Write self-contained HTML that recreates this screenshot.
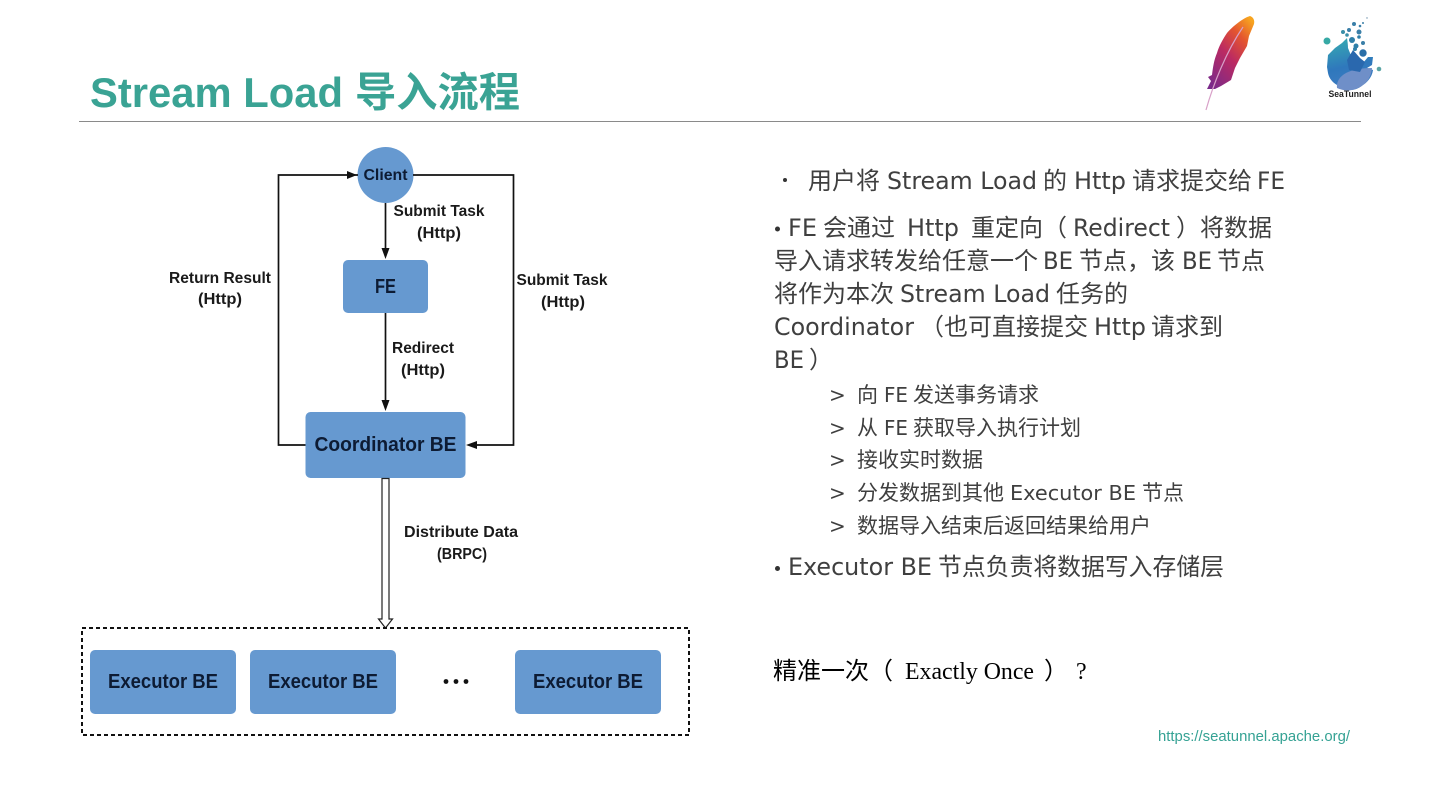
<!DOCTYPE html>
<html><head><meta charset="utf-8"><style>
html,body{margin:0;padding:0;background:#fff;width:1440px;height:810px;overflow:hidden}
svg{display:block}
.d text{font-family:"DejaVu Sans","Noto Sans CJK SC",sans-serif;fill:#3f3f3f;font-size:24px}
.s text{font-size:20px}
.l{font-family:"Liberation Sans",sans-serif;font-weight:bold;font-size:16px;fill:#1a1a1a;text-anchor:middle}
.n{font-family:"Liberation Sans",sans-serif;font-weight:bold;fill:#0d1b33;text-anchor:middle}
</style></head><body>
<svg width="1440" height="810" viewBox="0 0 1440 810" xmlns="http://www.w3.org/2000/svg">
<defs>
<linearGradient id="f" x1="0.85" y1="0" x2="0.15" y2="1"><stop offset="0" stop-color="#f7a41f"/><stop offset=".25" stop-color="#e4552f"/><stop offset=".55" stop-color="#bb2a62"/><stop offset="1" stop-color="#7a2a8a"/></linearGradient>
<linearGradient id="w" x1=".3" y1="0" x2=".5" y2="1"><stop offset="0" stop-color="#36a9b2"/><stop offset=".55" stop-color="#2f78bc"/><stop offset="1" stop-color="#3f7cc2"/></linearGradient>
</defs>
<text x="90" y="107" font-family="'Liberation Sans',sans-serif" font-weight="bold" font-size="42" fill="#3aa394" textLength="253" lengthAdjust="spacingAndGlyphs">Stream Load</text>
<text x="355" y="106.500" font-family="'Noto Sans CJK SC',sans-serif" font-weight="bold" font-size="41" fill="#3aa394" textLength="165" lengthAdjust="spacingAndGlyphs">导入流程</text>
<rect x="79" y="121" width="1282" height="1" fill="#8a8a8a"/>

<!-- feather -->
<path d="M1250 16C1253 17 1255 20 1254 24L1249 36L1247 46L1240 58L1235 68L1231 80L1221 86L1215 89L1207 89L1211 81L1208 77L1212 75C1213 67 1214 60 1217 53C1219 46 1223 39 1227 33C1232 27 1243 18 1250 16Z" fill="url(#f)"/>
<path d="M1206 110C1213 85 1226 52 1243 27" stroke="#d8a0c8" stroke-width="1.200" fill="none"/>
<!-- seatunnel -->
<path d="M1327 67L1328 55L1335 48L1342 43L1347 38C1348 44 1348 48 1348 48L1352 58L1363 63L1368 57L1373 57L1372 65L1367 68L1373 70C1372 78 1366 83 1363 85C1358 89 1354 90 1350 90C1344 90 1340 87 1337 85C1332 82 1329 78 1328 73Z" fill="url(#w)"/>
<path d="M1337 88C1336 78 1345 68 1372 68C1371 78 1366 83 1363 85C1356 91 1345 92 1337 88Z" fill="#6f8fc8"/>
<path d="M1347 60L1353 50L1360 58L1365 62L1360 72L1349 70Z" fill="#2a68ae"/>
<circle cx="1327" cy="41" r="3.500" fill="#36a9a5"/><circle cx="1343" cy="32" r="2" fill="#3a8fa8"/>
<circle cx="1349" cy="30" r="2" fill="#3a7fa8"/><circle cx="1359" cy="32" r="2.500" fill="#3a7fa8"/><circle cx="1354" cy="24" r="2" fill="#3a7fa8"/><circle cx="1352" cy="40" r="3" fill="#2f7fa8"/><circle cx="1363" cy="43" r="2" fill="#3a7fa8"/><circle cx="1363" cy="53" r="3.700" fill="#2a6fa8"/><circle cx="1356" cy="46" r="2.500" fill="#2f7fa8"/><circle cx="1355" cy="49" r="2" fill="#2f7fa8"/><circle cx="1347" cy="35" r="1.800" fill="#3a8fa8"/><circle cx="1360" cy="26" r="1.300" fill="#3a7fa8"/><circle cx="1363" cy="23" r="1" fill="#3a7fa8"/><circle cx="1367" cy="18" r=".7" fill="#6a8fa8"/><circle cx="1359" cy="37" r="1.800" fill="#2f7fa8"/><circle cx="1379" cy="69" r="2.300" fill="#5aa5a5"/>
<text x="1350" y="97" font-family="'Liberation Sans',sans-serif" font-weight="bold" font-size="9" text-anchor="middle" fill="#222" textLength="43" lengthAdjust="spacingAndGlyphs">SeaTunnel</text>

<!-- diagram -->
<g fill="#6699d0">
<circle cx="385.500" cy="175" r="28"/>
<rect x="343" y="260" width="85" height="53" rx="5"/>
<rect x="305.500" y="412" width="160" height="66" rx="5"/>
<rect x="90" y="650" width="146" height="64" rx="5"/>
<rect x="250" y="650" width="146" height="64" rx="5"/>
<rect x="515" y="650" width="146" height="64" rx="5"/>
</g>
<g stroke="#111" stroke-width="1.700" fill="none">
<path d="M358 175H278.500V445H305.500"/>
<path d="M413 175H513.500V445H470"/>
<path d="M385.500 203V250"/>
<path d="M385.500 313V402"/>
</g>
<g fill="#111">
<path d="M357 175L347 171V179Z"/>
<path d="M385.500 259L381.500 248H389.500Z"/>
<path d="M385.500 411L381.500 400H389.500Z"/>
<path d="M466 445L477 441V449Z"/>
</g>
<path d="M382 478.500H389V619H392.500L385.500 628L378.500 619H382Z" fill="#fff" stroke="#222" stroke-width="1.200"/>
<rect x="82" y="628" width="607" height="107" fill="none" stroke="#111" stroke-width="2" stroke-dasharray="4 3"/>
<circle cx="446" cy="681.500" r="2.400" fill="#111"/><circle cx="456" cy="681.500" r="2.400" fill="#111"/><circle cx="466" cy="681.500" r="2.400" fill="#111"/>

<text class="n" x="385.500" y="180" font-size="16" textLength="44" lengthAdjust="spacingAndGlyphs">Client</text>
<text class="n" x="385.500" y="293" font-size="20" textLength="21" lengthAdjust="spacingAndGlyphs">FE</text>
<text class="n" x="385.500" y="451" font-size="20" textLength="142" lengthAdjust="spacingAndGlyphs">Coordinator BE</text>
<text class="n" x="163" y="688" font-size="20" textLength="110" lengthAdjust="spacingAndGlyphs">Executor BE</text>
<text class="n" x="323" y="688" font-size="20" textLength="110" lengthAdjust="spacingAndGlyphs">Executor BE</text>
<text class="n" x="588" y="688" font-size="20" textLength="110" lengthAdjust="spacingAndGlyphs">Executor BE</text>

<text class="l" x="439" y="216" textLength="91" lengthAdjust="spacingAndGlyphs">Submit Task</text>
<text class="l" x="439" y="238" textLength="44" lengthAdjust="spacingAndGlyphs">(Http)</text>
<text class="l" x="220" y="283" textLength="102" lengthAdjust="spacingAndGlyphs">Return Result</text>
<text class="l" x="220" y="304" textLength="44" lengthAdjust="spacingAndGlyphs">(Http)</text>
<text class="l" x="562" y="285" textLength="91" lengthAdjust="spacingAndGlyphs">Submit Task</text>
<text class="l" x="563" y="307" textLength="44" lengthAdjust="spacingAndGlyphs">(Http)</text>
<text class="l" x="423" y="353" textLength="62" lengthAdjust="spacingAndGlyphs">Redirect</text>
<text class="l" x="423" y="375" textLength="44" lengthAdjust="spacingAndGlyphs">(Http)</text>
<text class="l" x="461" y="537" textLength="114" lengthAdjust="spacingAndGlyphs">Distribute Data</text>
<text class="l" x="462" y="559" textLength="50" lengthAdjust="spacingAndGlyphs">(BRPC)</text>

<!-- right text -->
<circle cx="785" cy="180" r="2" fill="#333"/>
<circle cx="777.500" cy="229" r="2.500" fill="#333"/>
<circle cx="777.500" cy="568.500" r="2.500" fill="#333"/>
<g class="d">
<text x="808" y="189">用户将</text><text x="887" y="189" textLength="150" lengthAdjust="spacingAndGlyphs">Stream Load</text><text x="1043" y="189">的</text><text x="1074" y="189" textLength="52" lengthAdjust="spacingAndGlyphs">Http</text><text x="1132" y="189">请求提交给</text><text x="1257" y="189" textLength="28" lengthAdjust="spacingAndGlyphs">FE</text>

<text x="788" y="236" textLength="29" lengthAdjust="spacingAndGlyphs">FE</text><text x="823" y="236">会通过</text><text x="907" y="236" textLength="52" lengthAdjust="spacingAndGlyphs">Http</text><text x="971" y="236">重定向（</text><text x="1073" y="236" textLength="97" lengthAdjust="spacingAndGlyphs">Redirect</text><text x="1176" y="236">）将数据</text>

<text x="774" y="269">导入请求转发给任意一个</text><text x="1043" y="269" textLength="30" lengthAdjust="spacingAndGlyphs">BE</text><text x="1079" y="269">节点，该</text><text x="1182" y="269" textLength="30" lengthAdjust="spacingAndGlyphs">BE</text><text x="1217" y="269">节点</text>

<text x="774" y="302">将作为本次</text><text x="900" y="302" textLength="150" lengthAdjust="spacingAndGlyphs">Stream Load</text><text x="1056" y="302">任务的</text>

<text x="774" y="335" textLength="140" lengthAdjust="spacingAndGlyphs">Coordinator</text><text x="920" y="335">（也可直接提交</text><text x="1094" y="335" textLength="52" lengthAdjust="spacingAndGlyphs">Http</text><text x="1151" y="335">请求到</text>

<text x="774" y="368" textLength="30" lengthAdjust="spacingAndGlyphs">BE</text><text x="809" y="368">）</text>

<text x="788" y="575" textLength="144" lengthAdjust="spacingAndGlyphs">Executor BE</text><text x="938" y="575" textLength="286" lengthAdjust="spacingAndGlyphs">节点负责将数据写入存储层</text>
</g>
<g class="d s">
<text x="829" y="402">&gt;</text><text x="857" y="402" style="font-size:21px">向</text><text x="884" y="402" textLength="24" lengthAdjust="spacingAndGlyphs">FE</text><text x="913" y="402" style="font-size:21px">发送事务请求</text>
<text x="829" y="435">&gt;</text><text x="857" y="435" style="font-size:21px">从</text><text x="884" y="435" textLength="24" lengthAdjust="spacingAndGlyphs">FE</text><text x="913" y="435" style="font-size:21px">获取导入执行计划</text>
<text x="829" y="467">&gt;</text><text x="857" y="467" style="font-size:21px">接收实时数据</text>
<text x="829" y="500">&gt;</text><text x="857" y="500" style="font-size:21px">分发数据到其他</text><text x="1010" y="500" textLength="126" lengthAdjust="spacingAndGlyphs">Executor BE</text><text x="1142" y="500" style="font-size:21px">节点</text>
<text x="829" y="533">&gt;</text><text x="857" y="533" style="font-size:21px">数据导入结束后返回结果给用户</text>
</g>
<g font-family="'Liberation Serif','Noto Sans CJK SC',serif" font-size="24" fill="#000">
<text x="773" y="679">精准一次（</text><text x="905" y="679" textLength="129" lengthAdjust="spacingAndGlyphs">Exactly Once</text><text x="1044" y="679">）</text><text x="1076" y="679">?</text>
</g>
<text x="1158" y="741" font-family="'Liberation Sans',sans-serif" font-size="15" fill="#35a294" textLength="192" lengthAdjust="spacingAndGlyphs">https://seatunnel.apache.org/</text>
</svg>
</body></html>
